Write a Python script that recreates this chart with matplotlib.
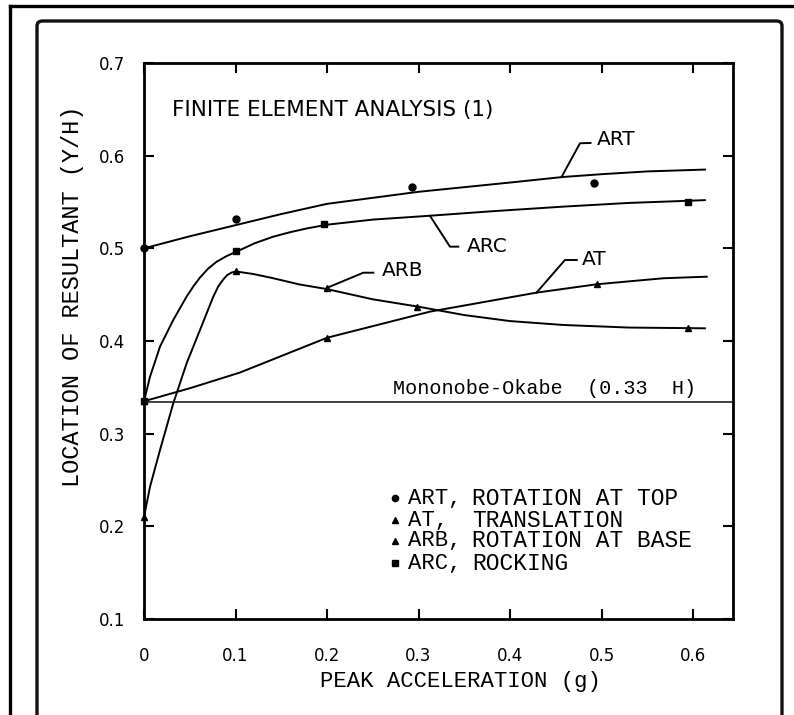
import matplotlib.pyplot as plt
from matplotlib.patches import FancyBboxPatch
from matplotlib.lines import Line2D

# measured points (peak acceleration g, location of resultant Y/H)
art_x = [0.0, 0.10, 0.293, 0.492]
art_y = [0.500, 0.532, 0.566, 0.570]
at_x = [0.0, 0.20, 0.495]
at_y = [0.335, 0.403, 0.461]
arb_x = [0.0, 0.10, 0.20, 0.298, 0.595]
arb_y = [0.210, 0.475, 0.457, 0.437, 0.414]
arc_x = [0.0, 0.10, 0.197, 0.594]
arc_y = [0.335, 0.497, 0.526, 0.550]

# fitted curves
art_cx = [0.0, 0.05, 0.10, 0.15, 0.20, 0.30, 0.40, 0.458, 0.50, 0.55, 0.613]
art_cy = [0.500, 0.513, 0.525, 0.537, 0.548, 0.561, 0.571, 0.577, 0.580, 0.583, 0.585]
arc_cx = [0.0, 0.0066, 0.0175, 0.032, 0.0466, 0.054, 0.0612, 0.070, 0.0794, 0.090,
          0.101, 0.121, 0.141, 0.160, 0.178, 0.20, 0.25, 0.31, 0.38, 0.458, 0.53, 0.613]
arc_cy = [0.335, 0.3615, 0.394, 0.4227, 0.448, 0.459, 0.4685, 0.478, 0.4856, 0.4915,
          0.4964, 0.5055, 0.5125, 0.5175, 0.5215, 0.5255, 0.5310, 0.535, 0.540, 0.545,
          0.549, 0.552]
arb_cx = [0.0, 0.0066, 0.0175, 0.032, 0.0466, 0.0612, 0.0757, 0.0812, 0.0867, 0.091,
          0.096, 0.101, 0.12, 0.14, 0.17, 0.20, 0.25, 0.30, 0.35, 0.40, 0.458, 0.53, 0.613]
arb_cy = [0.210, 0.2428, 0.2824, 0.3328, 0.376, 0.4119, 0.4478, 0.459, 0.4665, 0.4712,
          0.4740, 0.4750, 0.4722, 0.468, 0.461, 0.456, 0.445, 0.437, 0.428, 0.4215,
          0.4173, 0.4145, 0.4137]
at_cx = [0.0, 0.05, 0.105, 0.20, 0.3126, 0.429, 0.4947, 0.5675, 0.615]
at_cy = [0.335, 0.349, 0.366, 0.4035, 0.4317, 0.4522, 0.4612, 0.4677, 0.4694]

mo_y = 0.334

# leader lines: (xs, ys, label, label x, label y)
leaders = [
    ([0.4565, 0.4765, 0.488], [0.5773, 0.6134, 0.6137], 'ART', 0.495, 0.617),
    ([0.3126, 0.3344, 0.3435], [0.535, 0.5018, 0.5018], 'ARC', 0.3527, 0.5018),
    ([0.203, 0.2397, 0.2506], [0.4586, 0.4737, 0.4737], 'ARB', 0.2598, 0.4759),
    ([0.429, 0.460, 0.4729], [0.4522, 0.4874, 0.4874], 'AT', 0.4784, 0.4882),
]

legend_marks = ['o', '^', '^', 's']
legend_keys = ['ART,', 'AT,', 'ARB,', 'ARC,']
legend_desc = ['ROTATION AT TOP', 'TRANSLATION', 'ROTATION AT BASE', 'ROCKING']
legend_rows = [0.2176, 0.178, 0.1403, 0.1007]

fig = plt.figure(figsize=(7.94, 7.15), dpi=100)
W, H = 794, 715

# page frames
fig.add_artist(Line2D([10 / W, 1.0], [1 - 6 / H, 1 - 6 / H], color='black', lw=2.4))
fig.add_artist(Line2D([10 / W, 10 / W], [0.0, 1 - 6 / H], color='black', lw=2.4))
fig.add_artist(FancyBboxPatch((37 / W, -0.05), (782 - 37) / W, 1 - 21 / H + 0.05,
                              boxstyle='round,pad=0,rounding_size=0.007',
                              fill=False, ec='#111111', lw=2.4))

ax = fig.add_axes([144 / W, 1 - 619 / H, (733 - 144) / W, (619 - 63) / H])
ax.set_xlim(0, 0.6437)
ax.set_ylim(0.1, 0.7)

lw = 1.4
ax.plot(art_cx, art_cy, color='black', lw=lw)
ax.plot(arc_cx, arc_cy, color='black', lw=lw)
ax.plot(arb_cx, arb_cy, color='black', lw=lw)
ax.plot(at_cx, at_cy, color='black', lw=lw)
ax.plot(art_x, art_y, 'o', color='black', ms=5, clip_on=False)
ax.plot(arc_x, arc_y, 's', color='black', ms=5, clip_on=False)
ax.plot(arb_x, arb_y, '^', color='black', ms=5, clip_on=False)
ax.plot(at_x, at_y, '^', color='black', ms=5, clip_on=False)

ax.axhline(mo_y, color='#222222', lw=1.2)
ax.text(0.272, mo_y + 0.004, 'Mononobe-Okabe  (0.33  H)', family='Liberation Mono',
        fontsize=14.5, ha='left', va='bottom')

for xs, ys, name, tx, ty in leaders:
    ax.plot(xs, ys, color='black', lw=1.4)
    ax.text(tx, ty, name, fontsize=14.5, ha='left', va='center')

ax.text(0.0306, 0.6493, 'FINITE ELEMENT ANALYSIS (1)', fontsize=15.5, ha='left', va='center')

# key
for mk, key, desc, ry in zip(legend_marks, legend_keys, legend_desc, legend_rows):
    ax.plot([0.4261], [ry], mk, color='black', ms=4.5, transform=ax.transAxes,
            clip_on=False)
    ax.text(0.4482, ry, key, transform=ax.transAxes, family='Liberation Mono',
            fontsize=16, ha='left', va='center')
    ax.text(0.5569, ry, desc, transform=ax.transAxes, family='Liberation Mono',
            fontsize=16.5, ha='left', va='center')

ax.set_xticks([0, 0.1, 0.2, 0.3, 0.4, 0.5, 0.6])
ax.set_xticklabels(['0', '0.1', '0.2', '0.3', '0.4', '0.5', '0.6'])
ax.set_yticks([0.1, 0.2, 0.3, 0.4, 0.5, 0.6, 0.7])
ax.set_yticklabels(['0.1', '0.2', '0.3', '0.4', '0.5', '0.6', '0.7'])
ax.tick_params(direction='in', length=7.5, width=1.5, top=True, right=True, labelsize=12)
ax.tick_params(axis='x', pad=20)
ax.tick_params(axis='y', pad=13.5)
for s in ax.spines.values():
    s.set_linewidth(2)

ax.set_xlabel('PEAK ACCELERATION (g)', family='Liberation Mono', fontsize=16)
ax.xaxis.set_label_coords(0.538, -0.093)
ax.set_ylabel('LOCATION OF RESULTANT (Y/H)', family='Liberation Mono', fontsize=17)
ax.yaxis.set_label_coords(-0.102, 0.581)

fig.savefig('out.png', dpi=100)
